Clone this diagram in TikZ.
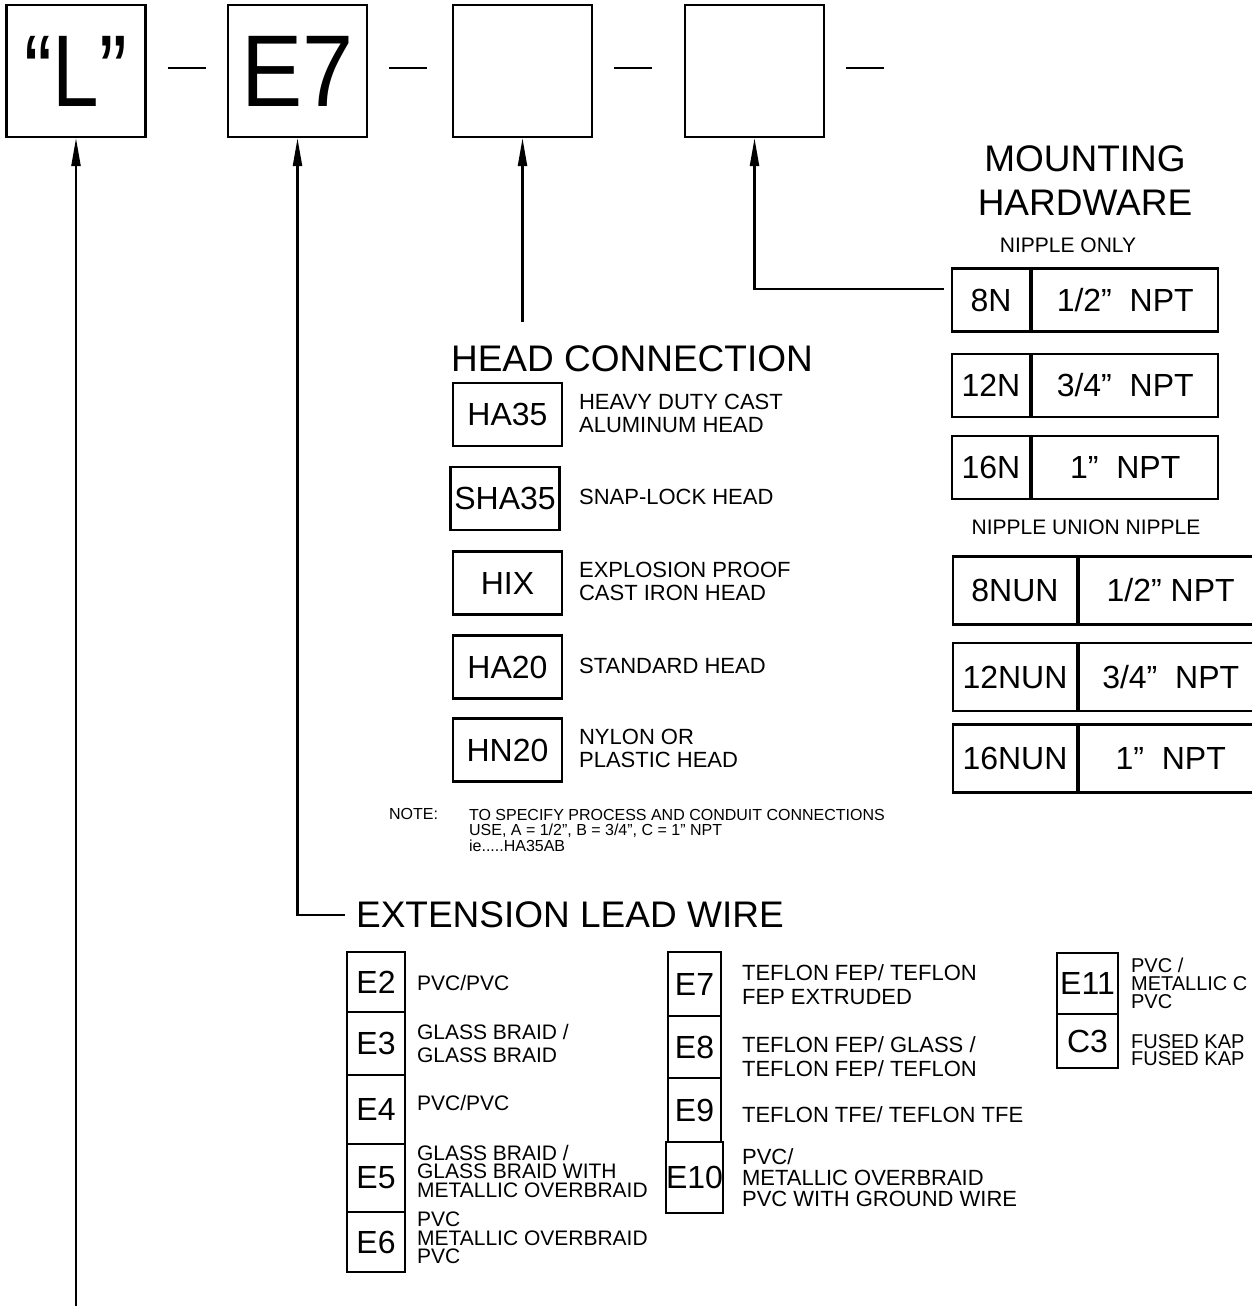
\documentclass[tikz,border=0pt]{standalone}
\usepackage{fontspec}
\setmainfont{Liberation Sans}
\usetikzlibrary{arrows.meta,positioning}

\begin{document}
\begin{tikzpicture}[
    x=1pt, y=-1pt,
    line width=2.2pt,
    partbox/.style={draw, minimum width=139pt, minimum height=132pt,
        inner sep=0pt, font=\fontsize{102}{102}\selectfont},
    codebox/.style={draw, inner sep=0pt, font=\fontsize{32}{32}\selectfont},
    title/.style={inner sep=0pt, font=\fontsize{37}{44}\selectfont},
    sublbl/.style={inner sep=0pt, font=\fontsize{21}{21}\selectfont},
    desc/.style={inner sep=0pt, anchor=west, align=left,
        font=\fontsize{22}{23}\selectfont},
    tightdesc/.style={inner sep=0pt, anchor=west, align=left,
        font=\fontsize{21}{18.5}\selectfont},
    notelbl/.style={inner sep=0pt, anchor=west, align=left,
        font=\fontsize{16}{15.5}\selectfont},
    arw/.style={-{Triangle[length=28pt, width=9pt]}},
]
\useasboundingbox (0,0) rectangle (1252,1311);
\clip (0,0) rectangle (1252,1311);

% --- Part number boxes ---
\node[partbox] (pL)  at (76,71)    {\scalebox{0.82}[1]{“L”}};
\node[partbox] (pE)  at (297.5,71) {\scalebox{0.9}[1]{E7}};
\node[partbox] (pH)  at (522.5,71) {};
\node[partbox] (pM)  at (754.5,71) {};
\foreach \b in {pL,pE,pH,pM}
    \draw ([xshift=21pt,yshift=3pt]\b.east) -- ++(38,0);

% --- Mounting hardware ---
\node[title, align=center] (mtitle) at (1085,181) {MOUNTING\\HARDWARE};
\node[sublbl] (nonly) at (1068,245) {NIPPLE ONLY};
\foreach \code/\size/\yc in {8N/{1/2”\ \ NPT}/300, 12N/{3/4”\ \ NPT}/385.5,
                              16N/{1”\ \ NPT}/467.5} {
    \node[codebox, minimum width=78pt, minimum height=63pt]
        (m\code) at (991,\yc) {\code};
    \node[codebox, minimum width=186pt, minimum height=63pt,
        right=0pt of m\code] (s\code) {\size};
}
\node[sublbl] (nun) at (1086,527) {NIPPLE UNION NIPPLE};
\foreach \code/\size/\yc in {8NUN/{1/2” NPT}/590.5, 12NUN/{3/4”\ \ NPT}/677,
                              16NUN/{1”\ \ NPT}/758.5} {
    \node[codebox, minimum width=124pt, minimum height=68pt]
        (m\code) at (1015,\yc) {\code};
    \node[codebox, minimum width=183pt, minimum height=68pt,
        right=0pt of m\code] (s\code) {\size};
}

% --- Head connection ---
\node[title, anchor=west] (htitle) at (450,359) {HEAD CONNECTION};
\foreach \code/\xc/\yc/\txt in {
    HA35/507.5/414.5/{HEAVY DUTY CAST\\ALUMINUM HEAD},
    SHA35/505/498.5/{SNAP-LOCK HEAD},
    HIX/507.5/583/{EXPLOSION PROOF\\CAST IRON HEAD},
    HA20/507.5/667/{STANDARD HEAD},
    HN20/507.5/750/{NYLON OR\\PLASTIC HEAD}} {
    \node[codebox, minimum width=109pt, minimum height=63pt]
        (h\code) at (\xc,\yc) {\code};
    \node[desc] (d\code) at (578,\yc-1.5) {\txt};
}
\node[notelbl] (note) at (388,814) {NOTE:};
\node[notelbl] (notetxt) at (468,830)
    {TO SPECIFY PROCESS AND CONDUIT CONNECTIONS\\
     USE, A = 1/2”, B = 3/4”, C = 1” NPT\\
     ie.....HA35AB};

% --- Extension lead wire ---
\node[title, anchor=west] (etitle) at (355,915) {EXTENSION LEAD WIRE};
\foreach \code/\yc/\bh in {E2/982/60, E3/1043.5/63, E4/1109.5/69,
                           E5/1178/68, E6/1242/60}
    \node[codebox, minimum width=58pt, minimum height=\bh pt]
        (e\code) at (376,\yc) {\code};
\foreach \code/\yc/\bh in {E7/984/64, E8/1047/62, E9/1110/64, E10/1177.5/71}
    \node[codebox, minimum width=53pt, minimum height=\bh pt]
        (e\code) at (694.5,\yc) {\code};
\node[codebox, minimum width=61pt, minimum height=61pt] (eE11) at (1087.5,983.5) {E11};
\node[codebox, minimum width=61pt, minimum height=54pt] (eC3) at (1087.5,1041) {C3};

\node[desc, font=\fontsize{21}{23}\selectfont] (dE2) at (416,983) {PVC/PVC};
\node[desc, font=\fontsize{21}{23}\selectfont] (dE3) at (416,1043.5)
    {GLASS BRAID /\\GLASS BRAID};
\node[desc, font=\fontsize{21}{23}\selectfont] (dE4) at (416,1103) {PVC/PVC};
\node[tightdesc] (dE5) at (416,1171)
    {GLASS BRAID /\\GLASS BRAID WITH\\METALLIC OVERBRAID};
\node[tightdesc] (dE6) at (416,1238) {PVC\\METALLIC OVERBRAID\\PVC};
\node[desc, font=\fontsize{22}{24}\selectfont] (dE7) at (741,985)
    {TEFLON FEP/ TEFLON\\FEP EXTRUDED};
\node[desc, font=\fontsize{22}{24}\selectfont] (dE8) at (741,1057)
    {TEFLON FEP/ GLASS /\\TEFLON FEP/ TEFLON};
\node[desc] (dE9) at (741,1115) {TEFLON TFE/ TEFLON TFE};
\node[desc, font=\fontsize{22}{21}\selectfont] (dE10) at (741,1178)
    {PVC/\\METALLIC OVERBRAID\\PVC WITH GROUND WIRE};
\node[desc, font=\fontsize{20}{18}\selectfont] (dE11) at (1130,983)
    {PVC /\\METALLIC C\\PVC};
\node[desc, font=\fontsize{20}{17}\selectfont] (dC3) at (1130,1050)
    {FUSED KAP\\FUSED KAP};

% --- Leader arrows ---
\coordinate (lend) at (76,1306);
\coordinate (hend) at (522.5,322);
\draw[arw] (lend) -- (pL.south);
\draw[arw] ([xshift=-10pt]etitle.west) -| (pE.south);
\draw[arw] (hend) -- (pH.south);
\draw[arw] ([xshift=-7pt,yshift=11pt]m8N.west) -| (pM.south);

\end{tikzpicture}
\end{document}
